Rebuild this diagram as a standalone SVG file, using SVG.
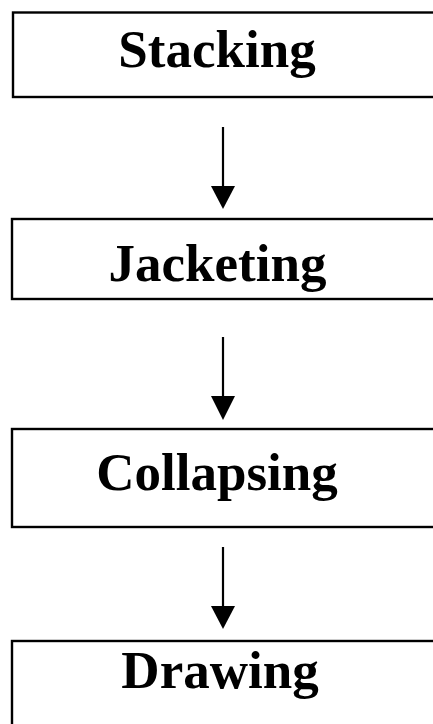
<svg xmlns="http://www.w3.org/2000/svg" width="433" height="724" viewBox="0 0 433 724">
<defs>
<style>
.box{fill:#fff;stroke:#000;stroke-width:2.4}
.lbl{font-family:"Liberation Serif","Times New Roman",serif;font-weight:bold;font-size:53px;fill:#000;text-anchor:middle}
.shaft{stroke:#000;stroke-width:2.2;fill:none}
.head{fill:#000}
</style>
</defs>
<rect width="433" height="724" fill="#fff"/>
<g id="stacking"><rect class="box" x="13" y="12.5" width="440" height="84.5"/><text class="lbl" x="217" y="67">Stacking</text></g>
<g id="jacketing"><rect class="box" x="12" y="219" width="440" height="80"/><text class="lbl" x="217.5" y="281">Jacketing</text></g>
<g id="collapsing"><rect class="box" x="12" y="429" width="440" height="98"/><text class="lbl" x="217" y="490">Collapsing</text></g>
<g id="drawing"><rect class="box" x="12" y="641" width="440" height="100"/><text class="lbl" x="220" y="688">Drawing</text></g>
<g id="connectors">
<line class="shaft" x1="223" y1="127" x2="223" y2="190"/><path class="head" d="M211,186 L235,186 L223,209 Z"/>
<line class="shaft" x1="223" y1="337" x2="223" y2="400"/><path class="head" d="M211,396 L235,396 L223,420 Z"/>
<line class="shaft" x1="223" y1="547" x2="223" y2="610"/><path class="head" d="M211,606 L235,606 L223,629 Z"/>
</g>
</svg>
